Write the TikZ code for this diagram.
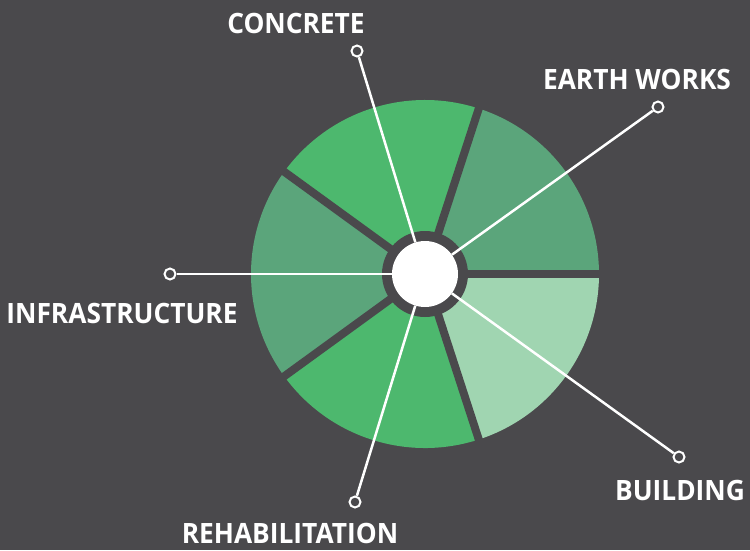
\documentclass[tikz,border=0pt]{standalone}
\usepackage{fontspec}
\newfontfamily\lblfont{Open Sans}[FakeStretch=0.94]
\definecolor{bg}{RGB}{74,73,76}
\definecolor{gbright}{RGB}{77,184,110}
\definecolor{gmid}{RGB}{91,165,123}
\definecolor{glight}{RGB}{160,213,177}
\tikzset{
  lbl/.style={text=white,font=\lblfont\bfseries\fontsize{28}{30}\selectfont,inner sep=0pt,anchor=center},
  endpt/.style={circle,draw=white,line width=2pt,fill=bg,minimum size=11pt,inner sep=0pt},
  conn/.style={draw=white,line width=2.5pt},
  gapline/.style={draw=bg,line width=8pt},
}
\begin{document}
\begin{tikzpicture}[x=1pt,y=-1pt]
\fill[bg] (0,0) rectangle (750,550);
\useasboundingbox (0,0) rectangle (750,550);
\coordinate (c) at (425,274);
% wedges (visual angles negated due to flipped y)
\fill[gmid]    (c) -- ++(0:174)    arc[start angle=0,   end angle=-72,  radius=174] -- cycle;
\fill[gbright] (c) -- ++(-72:174)  arc[start angle=-72, end angle=-144, radius=174] -- cycle;
\fill[gmid]    (c) -- ++(-144:174) arc[start angle=-144,end angle=-216, radius=174] -- cycle;
\fill[gbright] (c) -- ++(-216:174) arc[start angle=-216,end angle=-288, radius=174] -- cycle;
\fill[glight]  (c) -- ++(-288:174) arc[start angle=-288,end angle=-360, radius=174] -- cycle;
% gaps
\foreach \a in {0,72,144,216,288}{
  \draw[gapline] (c) -- ++(-\a:180);
}
\fill[bg] (c) circle[radius=43];
\node[circle,fill=white,minimum size=66pt,inner sep=0pt] (ctr) at (c) {};
% end points
\node[endpt] (e1) at (357,51) {};
\node[endpt] (e2) at (658,107) {};
\node[endpt] (e3) at (170,274) {};
\node[endpt] (e4) at (355,502) {};
\node[endpt] (e5) at (679,457) {};
\foreach \e in {e1,e2,e3,e4,e5}{
  \draw[conn] (ctr) -- (\e);
}
% labels
\node[lbl] (l1) at (296,23) {CONCRETE};
\node[lbl] (l2) at (637,79) {EARTH WORKS};
\node[lbl] (l3) at (122,313) {INFRASTRUCTURE};
\node[lbl] (l4) at (290,533) {REHABILITATION};
\node[lbl] (l5) at (680,490) {BUILDING};
\end{tikzpicture}
\end{document}
